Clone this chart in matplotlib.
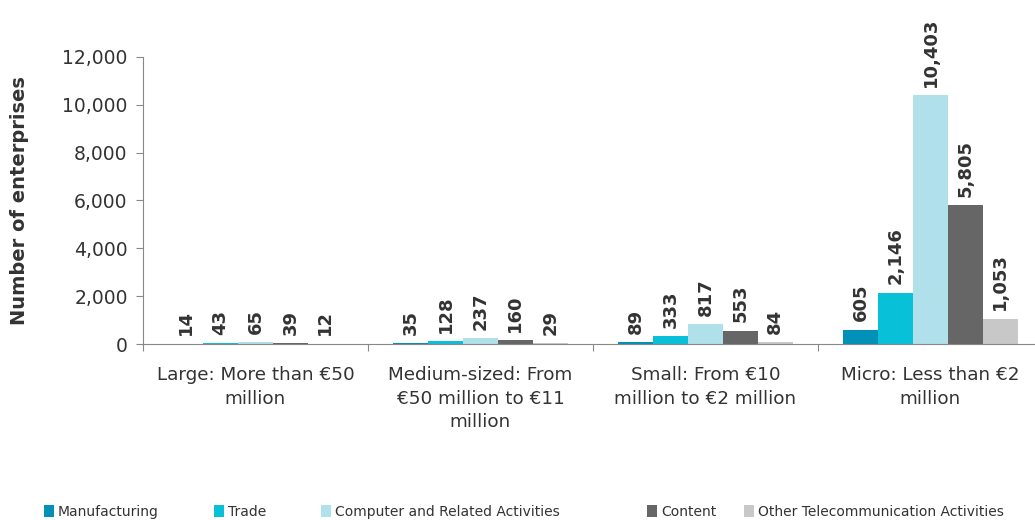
import matplotlib
matplotlib.use("Agg")
import matplotlib.pyplot as plt
import numpy as np

categories = [
    "Large: More than €50\nmillion",
    "Medium-sized: From\n€50 million to €11\nmillion",
    "Small: From €10\nmillion to €2 million",
    "Micro: Less than €2\nmillion",
]
series_names = [
    "Manufacturing",
    "Trade",
    "Computer and Related Activities",
    "Content",
    "Other Telecommunication Activities",
]
manufacturing = [14, 35, 89, 605]
trade = [43, 128, 333, 2146]
computer = [65, 237, 817, 10403]
content = [39, 160, 553, 5805]
other_telecom = [12, 29, 84, 1053]
series_values = [manufacturing, trade, computer, content, other_telecom]
colors = ["#0090B8", "#08C0D8", "#B0E0EA", "#666666", "#C8C8C8"]
y_ticks = [0, 2000, 4000, 6000, 8000, 10000, 12000]

plt.rcParams["font.family"] = ["DejaVu Sans"]

fig = plt.figure(figsize=(10.35, 5.2), dpi=100)
ax = fig.add_axes([143 / 1035, 1 - 344 / 520, 900 / 1035, 287 / 520])

x = np.arange(len(categories))
bar_w = 0.155
n = len(series_values)
handles = []
for i, (name, vals, col) in enumerate(zip(series_names, series_values, colors)):
    pos = x + (i - (n - 1) / 2) * bar_w
    bars = ax.bar(pos, vals, width=bar_w, color=col, label=name, zorder=2)
    handles.append(bars)
    for b, v in zip(bars, vals):
        ax.annotate(f"{v:,}", (b.get_x() + b.get_width() / 2, v),
                    xytext=(0, 6), textcoords="offset points",
                    rotation=90, ha="center", va="bottom",
                    fontsize=13, fontweight="bold", color="#333333")

ax.set_xlim(-0.5, len(categories) - 0.5)
ax.set_ylim(0, 12000)
ax.set_yticks(y_ticks)
ax.set_yticklabels([f"{t:,}" for t in y_ticks], fontsize=13.5, color="#333333")
ax.set_ylabel("Number of enterprises", fontsize=14, fontweight="bold",
              color="#333333", labelpad=24)

ax.set_xticks(np.arange(len(categories) + 1) - 0.5)
ax.set_xticklabels([])
ax.set_xticks(x, minor=True)
ax.set_xticklabels(categories, minor=True, fontsize=13.2, color="#333333",
                   linespacing=1.38, va="top")
ax.tick_params(axis="x", which="minor", length=0, pad=16)
ax.tick_params(axis="x", which="major", length=5, color="#888888", direction="out")
ax.tick_params(axis="y", length=5, color="#888888", direction="out", pad=6)

for s in ["top", "right"]:
    ax.spines[s].set_visible(False)
for s in ["left", "bottom"]:
    ax.spines[s].set_color("#888888")

# one legend entry per series, spread along the bottom edge
legend_x = [37, 207, 314, 640, 737]
for h, name, lx in zip(handles, series_names, legend_x):
    fig.legend([h], [name], loc="center left",
               bbox_to_anchor=(lx / 1035, 1 - 512 / 520),
               frameon=False, fontsize=10, handlelength=0.7, handleheight=0.9,
               handletextpad=0.3, borderpad=0, labelcolor="#333333")

fig.savefig("out.png", dpi=100)
